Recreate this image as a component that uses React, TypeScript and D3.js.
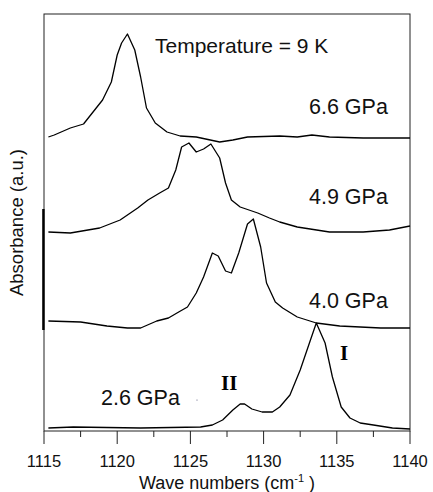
import React from 'react';
import * as d3 from 'd3';

// wave numbers (cm-1) and absorbance (a.u., offset per trace)
const wn66 = [1115.3, 1115.7, 1116.8, 1117.7, 1119.0, 1119.6, 1120.0, 1120.3, 1120.7, 1121.2, 1121.6, 1122.0, 1122.6, 1123.4, 1124.3, 1125.4, 1127.0, 1127.9, 1128.9, 1131.1, 1132.3, 1133.3, 1134.5, 1136.8, 1140.0];
const abs66 = [2.94, 2.96, 3.03, 3.07, 3.31, 3.49, 3.76, 3.88, 3.97, 3.81, 3.54, 3.23, 3.08, 2.99, 2.95, 2.94, 2.89, 2.91, 2.94, 2.95, 2.94, 2.96, 2.94, 2.93, 2.93];

const wn49 = [1115.3, 1116.8, 1118.8, 1120.2, 1121.4, 1122.1, 1122.9, 1123.5, 1124.0, 1124.4, 1124.9, 1125.4, 1125.9, 1126.4, 1127.0, 1127.4, 1127.8, 1128.4, 1129.6, 1130.4, 1131.1, 1132.3, 1134.5, 1136.8, 1138.6, 1140.0];
const abs49 = [1.99, 1.98, 2.03, 2.11, 2.23, 2.31, 2.38, 2.43, 2.61, 2.84, 2.88, 2.79, 2.82, 2.87, 2.73, 2.48, 2.31, 2.24, 2.18, 2.13, 2.09, 2.04, 1.99, 1.99, 2.01, 2.05];

const wn40 = [1115.3, 1117.5, 1119.3, 1120.7, 1121.6, 1122.7, 1123.5, 1124.2, 1124.8, 1125.4, 1125.9, 1126.5, 1126.9, 1127.4, 1127.8, 1128.3, 1128.9, 1129.3, 1129.8, 1130.2, 1130.8, 1131.3, 1132.3, 1133.6, 1135.2, 1138.0, 1140.0];
const abs40 = [1.10, 1.09, 1.05, 1.03, 1.03, 1.10, 1.13, 1.19, 1.24, 1.38, 1.54, 1.78, 1.75, 1.60, 1.58, 1.78, 2.07, 2.12, 1.84, 1.48, 1.29, 1.23, 1.14, 1.08, 1.05, 1.03, 1.03];

const wn26 = [1115.3, 1117.0, 1121.6, 1125.7, 1126.5, 1127.2, 1127.9, 1128.4, 1128.7, 1129.2, 1129.9, 1130.6, 1131.1, 1131.8, 1132.5, 1133.2, 1133.6, 1134.2, 1134.7, 1135.3, 1135.9, 1136.6, 1137.5, 1138.8, 1140.0];
const abs26 = [0.03, 0.04, 0.03, 0.04, 0.06, 0.11, 0.21, 0.27, 0.27, 0.22, 0.19, 0.19, 0.24, 0.36, 0.61, 0.91, 1.08, 0.88, 0.54, 0.24, 0.13, 0.08, 0.06, 0.03, 0.02];

const traces = [
  { wn: wn66, abs: abs66 },
  { wn: wn49, abs: abs49 },
  { wn: wn40, abs: abs40 },
  { wn: wn26, abs: abs26 },
];

const pressureLabels = ['6.6 GPa', '4.9 GPa', '4.0 GPa', '2.6 GPa'];
const xDomain = [1115, 1140];
const yDomain = [0, 4.17];

const W = 433;
const H = 492;
const left = 44, right = 410, top = 14, bottom = 431;

export default function App() {
  const x = d3.scaleLinear().domain(xDomain).range([left, right]);
  const y = d3.scaleLinear().domain(yDomain).range([bottom, top]);

  const line = d3.line();
  const paths = traces.map(t => {
    const pts: [number, number][] = t.wn.map((w, i) => [x(w), y(t.abs[i])]);
    return line(pts) || '';
  });

  const majors = x.ticks(5);
  const minors = d3.range(xDomain[0], xDomain[1] + 0.01, 2.5);
  const sans = '"Liberation Sans", Arial, sans-serif';
  const serif = '"Liberation Serif", "Times New Roman", serif';

  // label baselines (in data space)
  const labelY = [y(3.17), y(2.27), y(1.23), y(0.26)];

  return (
    <svg width={W} height={H} style={{ position: 'absolute', left: 0, top: 0 }} fontFamily={sans}>
      <rect x={left} y={top} width={right - left} height={bottom - top} fill="none" stroke="#222" strokeWidth={1} />
      {/* scale bar on the left axis */}
      <line x1={left - 0.6} x2={left - 0.6} y1={y(2.22)} y2={y(1.01)} stroke="#000" strokeWidth={2.4} />
      {minors.map(t => (
        <line key={'m' + t} x1={x(t)} x2={x(t)} y1={bottom} y2={bottom + (t % 5 === 0 ? 13 : 6)} stroke="#222" strokeWidth={1} />
      ))}
      {majors.map(t => (
        <text key={'t' + t} x={x(t)} y={467} textAnchor="middle" fontSize={16.5} fill="#111">{t}</text>
      ))}
      {paths.map((d, i) => (
        <path key={i} d={d} fill="none" stroke="#000" strokeWidth={1.3} strokeLinejoin="round" />
      ))}
      <text x={155} y={53} fontSize={21} fill="#111">Temperature = 9 K</text>
      {pressureLabels.map((l, i) => (
        <text key={l} x={i === 3 ? 101 : 309} y={labelY[i]} fontSize={21.5} fill="#111">{l}</text>
      ))}
      <text x={221} y={390} fontSize={21} fontWeight="bold" fontFamily={serif}>II</text>
      <text x={340} y={360} fontSize={21} fontWeight="bold" fontFamily={serif}>I</text>
      <circle cx={197} cy={400} r={0.6} fill="#557" />
      <text x={(left + right) / 2} y={489} textAnchor="middle" fontSize={18} fill="#111">
        Wave numbers (cm<tspan dy={-7} fontSize={11}>-1</tspan><tspan dy={7}> )</tspan>
      </text>
      <text transform={`translate(23,${(top + bottom) / 2}) rotate(-90)`} textAnchor="middle" fontSize={18.5} fill="#111">Absorbance (a.u.)</text>
    </svg>
  );
}
